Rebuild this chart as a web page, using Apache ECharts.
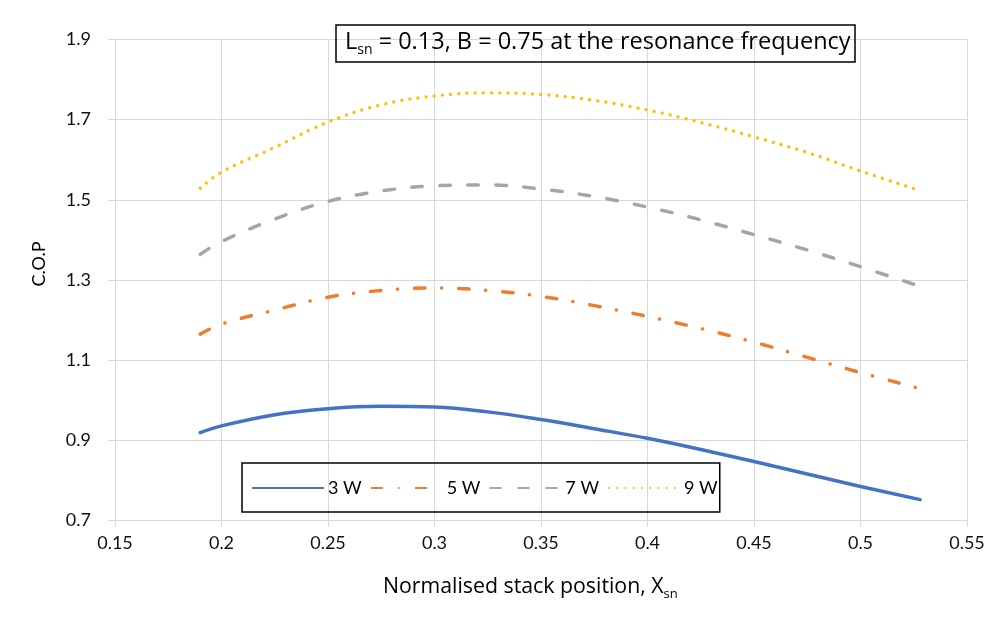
<!DOCTYPE html>
<html>
<head>
<meta charset="utf-8">
<script src="https://cdn.jsdelivr.net/npm/echarts@6/dist/echarts.min.js"></script>
<style>
html,body{margin:0;padding:0;background:#fff;}
#chart{width:997px;height:630px;}
</style>
</head>
<body>
<div id="chart"></div>
<script>
// ---- data ----
var xs  = [0.19, 0.2, 0.225, 0.25, 0.275, 0.3, 0.325, 0.35, 0.375, 0.4, 0.425, 0.45, 0.475, 0.5, 0.528];
var w3  = [0.919, 0.936, 0.964, 0.979, 0.985, 0.983, 0.971, 0.952, 0.929, 0.905, 0.877, 0.847, 0.816, 0.785, 0.752];
var w5  = [1.165, 1.190, 1.225, 1.257, 1.274, 1.280, 1.274, 1.259, 1.236, 1.209, 1.179, 1.145, 1.107, 1.069, 1.029];
var w7  = [1.364, 1.396, 1.452, 1.496, 1.522, 1.535, 1.537, 1.527, 1.508, 1.482, 1.450, 1.413, 1.375, 1.333, 1.284];
var w9  = [1.529, 1.569, 1.631, 1.694, 1.737, 1.759, 1.767, 1.763, 1.748, 1.724, 1.693, 1.657, 1.618, 1.572, 1.523];
var seriesNames = ['3 W', '5 W', '7 W', '9 W'];
var xTicks = {min: 0.15, max: 0.55, step: 0.05};
var yTicks = {min: 0.7, max: 1.9, step: 0.2};
var titleMain = ' = 0.13, B = 0.75 at the resonance frequency';
var xName = 'Normalised stack position, X';
var yName = 'C.O.P';

function pairs(ys){ return xs.map(function(x,i){ return [x, ys[i]]; }); }

var FONT = 'Lato';
var FONT2 = 'Open Sans';
var TXT = '#111';
var GRIDC = '#d9d9d9';

var chart = echarts.init(document.getElementById('chart'), null, {renderer:'canvas'});
var option = {
  animation: false,
  backgroundColor: '#fff',
  textStyle: {fontFamily: FONT},
  grid: {left: 115, right: 30, top: 39.5, bottom: 109.5, containLabel: false},
  title: {
    left: 336, top: 22,
    borderColor: '#000', borderWidth: 1.5,
    padding: [5, 5, 5, 9],
    text: '{a|L}{s|sn}{a|' + titleMain + '}',
    textStyle: {
      fontWeight: 'normal',
      rich: {
        a: {fontFamily: FONT2, fontSize: 23.5, fontWeight: 'normal', color: '#000', lineHeight: 30},
        s: {fontFamily: FONT2, fontSize: 14, fontWeight: 'normal', color: '#000', lineHeight: 14, verticalAlign: 'bottom'}
      }
    }
  },
  legend: {
    left: 242, top: 463,
    orient: 'horizontal',
    data: seriesNames,
    borderColor: '#000', borderWidth: 1.5,
    padding: [16, 2, 15, 10],
    itemWidth: 70, itemHeight: 14, itemGap: 9,
    itemStyle: {opacity: 0},
    textStyle: {fontFamily: FONT, fontSize: 18, color: '#000'}
  },
  xAxis: {
    type: 'value',
    min: xTicks.min, max: xTicks.max, interval: xTicks.step,
    axisLine: {show: true, lineStyle: {color: GRIDC, width: 1}},
    axisTick: {show: true, length: 6, lineStyle: {color: GRIDC}},
    splitLine: {show: true, lineStyle: {color: GRIDC, width: 1}},
    axisLabel: {fontFamily: FONT, fontSize: 18, color: TXT, margin: 14}
  },
  yAxis: {
    type: 'value',
    min: yTicks.min, max: yTicks.max, interval: yTicks.step,
    axisLine: {show: true, lineStyle: {color: GRIDC, width: 1}},
    axisTick: {show: true, length: 7, lineStyle: {color: GRIDC}},
    splitLine: {show: true, lineStyle: {color: GRIDC, width: 1}},
    axisLabel: {fontFamily: FONT, fontSize: 18, color: TXT, margin: 24,
      formatter: function(v){ return (Math.round(v*10)/10).toString(); }}
  },
  graphic: [
    {
      type: 'text', left: 383, top: 576,
      style: {
        text: '{a|' + xName + '}{s|sn}',
        rich: {
          a: {fontFamily: FONT2, fontSize: 21.3, fill: '#000', lineHeight: 28},
          s: {fontFamily: FONT2, fontSize: 13, fill: '#000', lineHeight: 13, verticalAlign: 'bottom'}
        }
      }
    },
    {
      type: 'text', x: 39, y: 264, rotation: Math.PI / 2,
      style: {text: yName, fontFamily: FONT, fontSize: 18, fill: '#000', align: 'center', verticalAlign: 'middle'}
    }
  ],
  series: [
    {name: seriesNames[0], type: 'line', data: pairs(w3), smooth: 0.4, symbol: 'none', showSymbol: false,
     lineStyle: {color: '#4472C4', width: 3.5, cap: 'round'}, itemStyle: {color: '#4472C4'}, z: 5},
    {name: seriesNames[1], type: 'line', data: pairs(w5), smooth: 0.4, symbol: 'none', showSymbol: false,
     lineStyle: {color: '#ED7D31', width: 3.5, cap: 'round', type: [10.5, 16.5, 0.1, 17]}, itemStyle: {color: '#ED7D31'}, z: 4},
    {name: seriesNames[2], type: 'line', data: pairs(w7), smooth: 0.4, symbol: 'none', showSymbol: false,
     lineStyle: {color: '#A5A5A5', width: 3.5, cap: 'round', type: [10.5, 17.5]}, itemStyle: {color: '#A5A5A5'}, z: 3},
    {name: seriesNames[3], type: 'line', data: pairs(w9), smooth: 0.4, symbol: 'none', showSymbol: false,
     lineStyle: {color: '#FFC000', width: 3.3, cap: 'round', type: [0.1, 8.1]}, itemStyle: {color: '#FFC000'}, z: 2}
  ]
};
chart.setOption(option);
</script>
</body>
</html>
